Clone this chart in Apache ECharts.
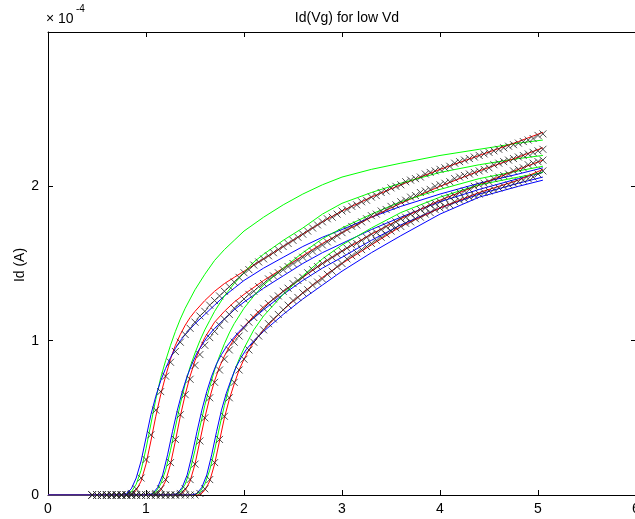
<!DOCTYPE html>
<html>
<head>
<meta charset="utf-8">
<script src="https://cdn.jsdelivr.net/npm/echarts@6/dist/echarts.min.js"></script>
<style>
  html, body { margin: 0; padding: 0; background: #fff; }
  #chart { width: 635px; height: 519px; }
</style>
</head>
<body>
<div id="chart"></div>
<script>
// Drain current Id in units of 1e-4 A against gate voltage Vg (V).
const X_TICKS = [0, 1, 2, 3, 4, 5, 6];
const Y_TICKS = [0, 1, 2, 3];

// Gate voltages of the measured points (0.45 V .. 5.05 V, 0.05 V steps).
const VG_MEAS = [
  0.45,0.50,0.55,0.60,0.65,0.70,0.75,0.80,0.85,0.90,
  0.95,1.00,1.05,1.10,1.15,1.20,1.25,1.30,1.35,1.40,
  1.45,1.50,1.55,1.60,1.65,1.70,1.75,1.80,1.85,1.90,
  1.95,2.00,2.05,2.10,2.15,2.20,2.25,2.30,2.35,2.40,
  2.45,2.50,2.55,2.60,2.65,2.70,2.75,2.80,2.85,2.90,
  2.95,3.00,3.05,3.10,3.15,3.20,3.25,3.30,3.35,3.40,
  3.45,3.50,3.55,3.60,3.65,3.70,3.75,3.80,3.85,3.90,
  3.95,4.00,4.05,4.10,4.15,4.20,4.25,4.30,4.35,4.40,
  4.45,4.50,4.55,4.60,4.65,4.70,4.75,4.80,4.85,4.90,
  4.95,5.00,5.05
];

// Measured Id for the four devices
const MEAS_A = [
  0,0,0,0,0,0,0,0,0.01,0.04,
  0.11,0.23,0.39,0.55,0.67,0.77,0.86,0.93,0.99,1.04,
  1.08,1.12,1.16,1.19,1.23,1.26,1.29,1.32,1.35,1.38,
  1.41,1.44,1.46,1.49,1.51,1.53,1.55,1.57,1.59,1.61,
  1.63,1.65,1.67,1.69,1.71,1.73,1.75,1.77,1.79,1.80,
  1.82,1.84,1.85,1.87,1.88,1.90,1.91,1.93,1.94,1.96,
  1.97,1.99,2.00,2.01,2.03,2.04,2.05,2.06,2.08,2.09,
  2.10,2.11,2.12,2.13,2.15,2.16,2.17,2.18,2.19,2.20,
  2.21,2.22,2.23,2.24,2.25,2.26,2.27,2.28,2.29,2.30,
  2.31,2.33,2.34
];
const MEAS_B = [
  0,0,0,0,0,0,0,0,0,0,
  0,0,0,0.01,0.04,0.10,0.21,0.36,0.52,0.65,
  0.75,0.84,0.91,0.97,1.02,1.06,1.10,1.14,1.17,1.21,
  1.24,1.27,1.30,1.32,1.35,1.37,1.40,1.42,1.44,1.46,
  1.48,1.50,1.52,1.54,1.56,1.58,1.60,1.62,1.64,1.66,
  1.68,1.70,1.72,1.74,1.75,1.77,1.79,1.81,1.82,1.84,
  1.85,1.87,1.88,1.90,1.91,1.93,1.94,1.96,1.97,1.98,
  2.00,2.01,2.02,2.03,2.05,2.06,2.07,2.08,2.09,2.10,
  2.11,2.12,2.14,2.15,2.16,2.17,2.18,2.19,2.20,2.21,
  2.22,2.23,2.24
];
const MEAS_C = [
  0,0,0,0,0,0,0,0,0,0,
  0,0,0,0,0,0,0,0,0.01,0.04,
  0.10,0.20,0.35,0.50,0.63,0.73,0.81,0.88,0.94,0.99,
  1.03,1.08,1.12,1.15,1.18,1.21,1.24,1.27,1.29,1.32,
  1.34,1.37,1.39,1.41,1.44,1.46,1.48,1.50,1.52,1.54,
  1.56,1.58,1.60,1.62,1.63,1.65,1.67,1.69,1.70,1.72,
  1.74,1.75,1.77,1.79,1.80,1.82,1.83,1.85,1.86,1.88,
  1.89,1.90,1.92,1.93,1.94,1.96,1.97,1.98,2.00,2.01,
  2.02,2.03,2.05,2.06,2.07,2.08,2.10,2.11,2.12,2.14,
  2.15,2.16,2.17
];
const MEAS_D = [
  0,0,0,0,0,0,0,0,0,0,
  0,0,0,0,0,0,0,0,0,0,
  0,0,0.01,0.04,0.10,0.21,0.36,0.51,0.63,0.73,
  0.81,0.88,0.94,0.99,1.03,1.07,1.11,1.14,1.17,1.20,
  1.23,1.26,1.28,1.31,1.33,1.36,1.38,1.40,1.43,1.45,
  1.48,1.50,1.53,1.55,1.57,1.59,1.61,1.63,1.65,1.67,
  1.69,1.71,1.73,1.74,1.76,1.77,1.79,1.80,1.82,1.83,
  1.85,1.86,1.87,1.88,1.90,1.91,1.92,1.93,1.94,1.95,
  1.96,1.97,1.98,1.99,2.00,2.01,2.02,2.03,2.04,2.05,
  2.06,2.08,2.10
];

// Model curves [Vg, Id] for each device: blue, green and red fits
const BLUE_A = [[0,0],[0.75,0],[0.80,0.01],[0.85,0.04],[0.90,0.11],[0.95,0.22],[1.00,0.37],[1.05,0.52],[1.10,0.64],[1.15,0.74],[1.20,0.82],[1.25,0.89],[1.30,0.95],[1.35,1.00],[1.40,1.04],[1.50,1.11],[1.60,1.17],[1.70,1.23],[1.80,1.29],[1.90,1.34],[2.00,1.39],[2.20,1.47],[2.40,1.54],[2.60,1.61],[2.80,1.67],[3.00,1.72],[3.30,1.80],[3.60,1.87],[4.00,1.95],[4.40,2.02],[4.80,2.08],[5.05,2.12]];
const GREEN_A = [[0,0],[0.80,0],[0.85,0.02],[0.90,0.07],[0.95,0.16],[1.00,0.30],[1.05,0.46],[1.10,0.62],[1.15,0.76],[1.20,0.87],[1.25,0.97],[1.30,1.06],[1.35,1.14],[1.40,1.21],[1.45,1.27],[1.50,1.33],[1.60,1.43],[1.70,1.52],[1.80,1.59],[1.90,1.65],[2.00,1.71],[2.20,1.80],[2.40,1.88],[2.60,1.95],[2.80,2.01],[3.00,2.06],[3.30,2.11],[3.60,2.15],[4.00,2.20],[4.40,2.24],[4.80,2.28],[5.05,2.30]];
const RED_A = [[0,0],[0.85,0],[0.90,0.03],[0.95,0.09],[1.00,0.20],[1.05,0.35],[1.10,0.51],[1.15,0.65],[1.20,0.77],[1.25,0.88],[1.30,0.97],[1.35,1.04],[1.40,1.10],[1.45,1.15],[1.50,1.19],[1.60,1.26],[1.70,1.32],[1.80,1.37],[1.90,1.41],[2.00,1.45],[2.20,1.53],[2.40,1.61],[2.60,1.69],[2.80,1.77],[3.00,1.84],[3.30,1.93],[3.60,2.01],[4.00,2.11],[4.40,2.20],[4.80,2.29],[5.05,2.35]];

const BLUE_B = [[0,0],[1.02,0],[1.07,0.01],[1.12,0.05],[1.17,0.13],[1.22,0.26],[1.27,0.41],[1.32,0.55],[1.37,0.67],[1.42,0.77],[1.47,0.85],[1.52,0.92],[1.57,0.97],[1.62,1.02],[1.70,1.08],[1.80,1.14],[1.90,1.20],[2.00,1.25],[2.20,1.34],[2.40,1.42],[2.60,1.50],[2.80,1.57],[3.00,1.63],[3.30,1.72],[3.60,1.80],[4.00,1.90],[4.40,1.98],[4.80,2.05],[5.05,2.09]];
const GREEN_B = [[0,0],[1.05,0],[1.10,0.02],[1.15,0.07],[1.20,0.16],[1.25,0.29],[1.30,0.44],[1.35,0.59],[1.40,0.72],[1.45,0.83],[1.50,0.92],[1.55,1.00],[1.60,1.07],[1.65,1.13],[1.70,1.19],[1.80,1.29],[1.90,1.37],[2.00,1.44],[2.10,1.51],[2.20,1.56],[2.40,1.65],[2.60,1.73],[2.80,1.82],[3.00,1.89],[3.30,1.96],[3.60,2.02],[4.00,2.09],[4.40,2.14],[4.80,2.18],[5.05,2.20]];
const RED_B = [[0,0],[1.10,0],[1.15,0.03],[1.20,0.09],[1.25,0.20],[1.30,0.35],[1.35,0.51],[1.40,0.65],[1.45,0.77],[1.50,0.87],[1.55,0.95],[1.60,1.02],[1.65,1.07],[1.70,1.12],[1.80,1.19],[1.90,1.25],[2.00,1.30],[2.20,1.39],[2.40,1.47],[2.60,1.55],[2.80,1.63],[3.00,1.70],[3.30,1.80],[3.60,1.89],[4.00,2.00],[4.40,2.10],[4.80,2.19],[5.05,2.25]];

const BLUE_C = [[0,0],[1.27,0],[1.32,0.01],[1.37,0.05],[1.42,0.13],[1.47,0.26],[1.52,0.41],[1.57,0.55],[1.62,0.67],[1.67,0.77],[1.72,0.85],[1.77,0.91],[1.82,0.96],[1.87,1.00],[1.95,1.06],[2.05,1.12],[2.20,1.20],[2.40,1.30],[2.60,1.39],[2.80,1.47],[3.00,1.54],[3.30,1.65],[3.60,1.75],[4.00,1.86],[4.40,1.95],[4.80,2.02],[5.05,2.06]];
const GREEN_C = [[0,0],[1.30,0],[1.35,0.02],[1.40,0.07],[1.45,0.16],[1.50,0.29],[1.55,0.44],[1.60,0.58],[1.65,0.70],[1.70,0.81],[1.75,0.90],[1.80,0.98],[1.85,1.05],[1.90,1.11],[2.00,1.21],[2.10,1.29],[2.20,1.36],[2.40,1.47],[2.60,1.57],[2.80,1.66],[3.00,1.73],[3.30,1.82],[3.60,1.90],[4.00,1.98],[4.40,2.05],[4.80,2.10],[5.05,2.13]];
const RED_C = [[0,0],[1.35,0],[1.40,0.03],[1.45,0.09],[1.50,0.20],[1.55,0.35],[1.60,0.50],[1.65,0.63],[1.70,0.74],[1.75,0.83],[1.80,0.90],[1.85,0.96],[1.90,1.01],[2.00,1.09],[2.10,1.16],[2.20,1.22],[2.40,1.32],[2.60,1.41],[2.80,1.50],[3.00,1.58],[3.30,1.69],[3.60,1.79],[4.00,1.91],[4.40,2.01],[4.80,2.11],[5.05,2.17]];

const BLUE_D = [[0,0],[1.47,0],[1.52,0.01],[1.57,0.05],[1.62,0.13],[1.67,0.26],[1.72,0.41],[1.77,0.55],[1.82,0.66],[1.87,0.75],[1.92,0.83],[1.97,0.89],[2.02,0.94],[2.10,1.00],[2.20,1.06],[2.40,1.17],[2.60,1.27],[2.80,1.36],[3.00,1.45],[3.30,1.57],[3.60,1.68],[4.00,1.82],[4.40,1.93],[4.80,2.00],[5.05,2.04]];
const GREEN_D = [[0,0],[1.50,0],[1.55,0.02],[1.60,0.07],[1.65,0.16],[1.70,0.29],[1.75,0.44],[1.80,0.58],[1.85,0.70],[1.90,0.80],[1.95,0.88],[2.00,0.95],[2.05,1.01],[2.10,1.07],[2.20,1.16],[2.40,1.30],[2.60,1.42],[2.80,1.53],[3.00,1.62],[3.30,1.73],[3.60,1.83],[4.00,1.93],[4.40,2.01],[4.80,2.06],[5.05,2.09]];
const RED_D = [[0,0],[1.55,0],[1.60,0.03],[1.65,0.09],[1.70,0.20],[1.75,0.35],[1.80,0.50],[1.85,0.62],[1.90,0.72],[1.95,0.81],[2.00,0.88],[2.05,0.94],[2.10,0.99],[2.20,1.07],[2.40,1.20],[2.60,1.31],[2.80,1.41],[3.00,1.50],[3.30,1.62],[3.60,1.74],[4.00,1.86],[4.40,1.96],[4.80,2.04],[5.05,2.11]];

const FONT = '"Liberation Sans", Arial, Helvetica, sans-serif';

function curve(data, color) {
  return {
    type: 'line', data, showSymbol: false, symbol: 'none',
    lineStyle: { color, width: 1 }, itemStyle: { color },
    animation: false, silent: true, z: 2
  };
}
function marks(ys) {
  return {
    type: 'scatter',
    data: VG_MEAS.map((v, i) => [v, ys[i]]),
    symbol: 'path://M0,0L10,10M10,0L0,10',
    symbolSize: 7,
    itemStyle: { color: 'rgba(0,0,0,0)', borderColor: '#222', borderWidth: 1 },
    animation: false, silent: true, z: 3
  };
}

const axisCommon = {
  type: 'value',
  axisLine: { show: true, onZero: false, lineStyle: { color: '#000', width: 1 } },
  axisTick: { show: true, inside: true, length: 5, lineStyle: { color: '#000', width: 1 } },
  splitLine: { show: false }
};

const chart = echarts.init(document.getElementById('chart'), null, { renderer: 'canvas' });
chart.setOption({
  backgroundColor: '#fff',
  animation: false,
  grid: { left: 48, top: 32, right: -1, bottom: 24, containLabel: false, outerBoundsMode: 'none' },
  title: {
    text: 'Id(Vg) for low Vd', left: 342, top: 6, textAlign: 'center',
    textStyle: { fontFamily: FONT, fontSize: 14, fontWeight: 'normal', color: '#000' }
  },
  xAxis: [
    Object.assign({}, axisCommon, {
      min: X_TICKS[0], max: X_TICKS[X_TICKS.length - 1], interval: 1,
      axisLabel: { color: '#000', fontFamily: FONT, fontSize: 14, margin: 7 }
    }),
    Object.assign({}, axisCommon, {
      position: 'top', min: X_TICKS[0], max: X_TICKS[X_TICKS.length - 1], interval: 1,
      axisLabel: { show: false }
    })
  ],
  yAxis: [
    Object.assign({}, axisCommon, {
      min: Y_TICKS[0], max: Y_TICKS[Y_TICKS.length - 1], interval: 1,
      axisLabel: {
        color: '#000', fontFamily: FONT, fontSize: 14, margin: 9,
        formatter: v => (v === Y_TICKS[Y_TICKS.length - 1] ? '' : String(v))
      }
    }),
    Object.assign({}, axisCommon, {
      position: 'right', min: Y_TICKS[0], max: Y_TICKS[Y_TICKS.length - 1], interval: 1,
      axisLabel: { show: false }
    })
  ],
  graphic: [
    { type: 'text', left: 46, top: 12,
      style: { text: '\u00d7 10', font: '14px ' + FONT, fill: '#000' } },
    { type: 'text', left: 76, top: 4,
      style: { text: '-4', font: '10px ' + FONT, fill: '#000' } },
    { type: 'text', x: 20, y: 265, rotation: Math.PI / 2,
      style: { text: 'Id (A)', font: '14px ' + FONT, fill: '#000', align: 'center', verticalAlign: 'middle' } }
  ],
  series: [
    curve(GREEN_A, '#00ff00'), curve(RED_A, '#ff0000'), curve(BLUE_A, '#0000ff'),
    curve(GREEN_B, '#00ff00'), curve(RED_B, '#ff0000'), curve(BLUE_B, '#0000ff'),
    curve(GREEN_C, '#00ff00'), curve(RED_C, '#ff0000'), curve(BLUE_C, '#0000ff'),
    curve(GREEN_D, '#00ff00'), curve(RED_D, '#ff0000'), curve(BLUE_D, '#0000ff'),
    marks(MEAS_A), marks(MEAS_B), marks(MEAS_C), marks(MEAS_D)
  ]
});
</script>
</body>
</html>
